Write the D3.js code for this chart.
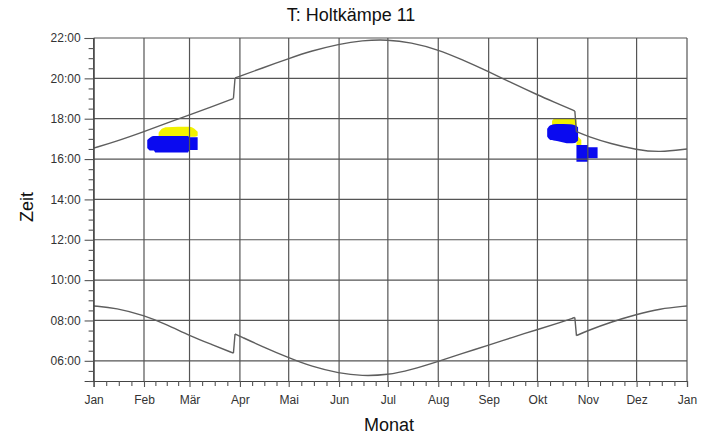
<!DOCTYPE html>
<html>
<head>
<meta charset="utf-8">
<script src="https://cdn.jsdelivr.net/npm/d3@7"></script>
<style>
  html, body { margin: 0; padding: 0; background: #fff; }
  svg { display: block; font-family: "Liberation Sans", Arial, sans-serif; }
</style>
</head>
<body>
<svg id="chart" width="713" height="437"></svg>
<script>
// ---------- DATA ----------
const title = "T: Holtkämpe 11";
const xLabel = "Monat";
const yLabel = "Zeit";
const monthLabels = ["Jan","Feb","Mär","Apr","Mai","Jun","Jul","Aug","Sep","Okt","Nov","Dez","Jan"];
const monthStarts = ["2015-01-01","2015-02-01","2015-03-01","2015-04-01","2015-05-01","2015-06-01",
                     "2015-07-01","2015-08-01","2015-09-01","2015-10-01","2015-11-01","2015-12-01","2016-01-01"];
const yTickValues = [6, 8, 10, 12, 14, 16, 18, 20, 22];
const yTickLabels = ["06:00","08:00","10:00","12:00","14:00","16:00","18:00","20:00","22:00"];

// sunset / sunrise lines (hours, local time incl. DST jumps)
const curveDates = ["2015-01-01","2015-01-15","2015-02-01","2015-02-15","2015-03-01","2015-03-15","2015-03-28",
                    "2015-03-29","2015-04-01","2015-04-15","2015-05-01","2015-05-15","2015-06-01","2015-06-15",
                    "2015-07-01","2015-07-15","2015-08-01","2015-08-15","2015-09-01","2015-09-15","2015-10-01",
                    "2015-10-15","2015-10-24","2015-10-25","2015-11-01","2015-11-15","2015-12-01","2015-12-15","2016-01-01"];
const sunsetValues  = [16.54,16.88,17.36,17.78,18.19,18.60,19.00,
                       20.02,20.10,20.52,20.98,21.36,21.70,21.88,
                       21.92,21.78,21.42,20.95,20.33,19.78,19.18,
                       18.70,18.38,17.36,17.12,16.76,16.46,16.33,16.50];
const sunriseValues = [8.72,8.62,8.25,7.80,7.25,6.80,6.38,
                       7.33,7.22,6.70,6.15,5.72,5.38,5.25,
                       5.30,5.55,5.97,6.35,6.77,7.15,7.55,
                       7.90,8.15,7.25,7.50,7.92,8.30,8.58,8.72];

// shadow periods: [date, from (h), to (h)]
const shadowFebYellow = [["2015-02-10",17.10,17.30],["2015-02-12",17.10,17.50],["2015-02-15",17.10,17.58],
                         ["2015-03-01",17.10,17.60],["2015-03-04",17.10,17.50],["2015-03-06",17.15,17.35]];
const shadowFebBlue   = [["2015-02-03",16.55,16.95],["2015-02-05",16.42,17.08],["2015-02-07",16.42,17.14],
                         ["2015-02-08",16.32,17.14],["2015-02-28",16.32,17.14],["2015-03-01",16.45,17.08],
                         ["2015-03-06",16.45,17.08]];
const shadowOctYellow = [["2015-10-10",17.55,17.90],["2015-10-12",17.55,18.02],["2015-10-25",17.55,18.02]];
const shadowOctYellow2= [["2015-10-25",16.70,17.20],["2015-10-28",16.70,16.95]];
const shadowOctBlue   = [["2015-10-07",17.12,17.50],["2015-10-09",16.95,17.68],["2015-10-13",16.90,17.74],
                         ["2015-10-21",16.78,17.72],["2015-10-24",16.80,17.68],["2015-10-26",16.92,17.58]];
const shadowNovBlue   = [["2015-10-25",15.87,16.70],["2015-11-01",16.04,16.59],["2015-11-07",16.04,16.59]];

// ---------- CHART ----------
const parse = d3.timeParse("%Y-%m-%d");
const svg = d3.select("#chart");
const x = d3.scaleTime().domain([parse(monthStarts[0]), parse(monthStarts[12])]).range([93.6, 687]);
const y = d3.scaleLinear().domain([5, 22]).range([381, 38]);

const gridColor = "#555";
const monthDates = monthStarts.map(parse);

// shadow blobs
const area = d3.area().x(d => x(parse(d[0]))).y0(d => y(d[1])).y1(d => y(d[2]));
const blobs = [
  {data: shadowFebYellow, color: "#f2f200", curve: d3.curveMonotoneX},
  {data: shadowOctYellow, color: "#f2f200", curve: d3.curveMonotoneX},
  {data: shadowOctYellow2, color: "#f2f200", curve: d3.curveLinear},
  {data: shadowFebBlue, color: "#0a0af0", curve: d3.curveMonotoneX},
  {data: shadowOctBlue, color: "#0a0af0", curve: d3.curveMonotoneX},
  {data: shadowNovBlue, color: "#0a0af0", curve: d3.curveStepAfter}
];
svg.append("g").selectAll("path").data(blobs).join("path")
  .attr("d", b => area.curve(b.curve)(b.data))
  .attr("fill", b => b.color).attr("stroke", "none");

// grid
const grid = svg.append("g").attr("stroke", gridColor).attr("stroke-width", 1.2);
grid.selectAll(".v").data(monthDates).join("line")
  .attr("x1", d => x(d)).attr("x2", d => x(d)).attr("y1", y(5)).attr("y2", y(22));
grid.selectAll(".h").data(yTickValues).join("line")
  .attr("x1", x.range()[0]).attr("x2", x.range()[1]).attr("y1", d => y(d)).attr("y2", d => y(d));

// curves, split at the daylight-saving jumps
function segLine(vals) {
  const idx = curveDates.map((d, i) => i);
  const breaks = [7, 23];
  const segs = [idx.slice(0, 7), idx.slice(7, 23), idx.slice(23)];
  const l = d3.line().x(i => x(parse(curveDates[i]))).y(i => y(vals[i])).curve(d3.curveBasis);
  let path = "";
  segs.forEach(s => { path += l(s); });
  breaks.forEach(b => {
    path += "M" + x(parse(curveDates[b - 1])) + "," + y(vals[b - 1]) + "L" + x(parse(curveDates[b])) + "," + y(vals[b]);
  });
  return path;
}
svg.append("path").attr("d", segLine(sunsetValues)).attr("fill", "none").attr("stroke", "#5e5e5e").attr("stroke-width", 1.4);
svg.append("path").attr("d", segLine(sunriseValues)).attr("fill", "none").attr("stroke", "#5e5e5e").attr("stroke-width", 1.4);

// x axis
const xAxis = d3.axisBottom(x).tickValues(monthDates).tickSize(6).tickPadding(8)
  .tickFormat((d, i) => monthLabels[i]);
const minorX = [];
for (let i = 0; i < 12; i++) {
  const a = +monthDates[i], b = +monthDates[i + 1];
  for (let k = 1; k <= 3; k++) minorX.push(new Date(a + (b - a) * k / 4));
}
svg.append("g").attr("transform", `translate(0,${y(5)})`).call(xAxis);
svg.append("g").attr("transform", `translate(0,${y(5)})`)
  .call(d3.axisBottom(x).tickValues(minorX).tickSize(5).tickFormat(""))
  .call(g => g.select(".domain").remove());

// y axis
const yAxis = d3.axisLeft(y).tickValues(yTickValues).tickSize(9).tickPadding(4)
  .tickFormat((d, i) => yTickLabels[i]);
const minorY = d3.range(5, 22.01, 0.5).filter(v => !yTickValues.includes(v));
svg.append("g").attr("transform", `translate(${x.range()[0]},0)`).call(yAxis);
svg.append("g").attr("transform", `translate(${x.range()[0]},0)`)
  .call(d3.axisLeft(y).tickValues(minorY).tickSize(5).tickFormat(""))
  .call(g => g.select(".domain").remove());

svg.selectAll(".domain").attr("stroke", "#444").attr("stroke-width", 1.2);
svg.selectAll(".tick line").attr("stroke", "#555").attr("stroke-width", 1.1);
svg.selectAll(".tick text").attr("font-size", 12).attr("fill", "#333")
  .attr("font-family", "'Liberation Sans', Arial, sans-serif");

// titles
svg.append("text").attr("x", 351).attr("y", 21).attr("text-anchor", "middle")
  .attr("font-size", 18).attr("fill", "#111").text(title);
svg.append("text").attr("x", 389).attr("y", 431).attr("text-anchor", "middle")
  .attr("font-size", 18).attr("fill", "#111").text(xLabel);
svg.append("text").attr("transform", "translate(33,207) rotate(-90)").attr("text-anchor", "middle")
  .attr("font-size", 18).attr("fill", "#111").text(yLabel);
</script>
</body>
</html>
